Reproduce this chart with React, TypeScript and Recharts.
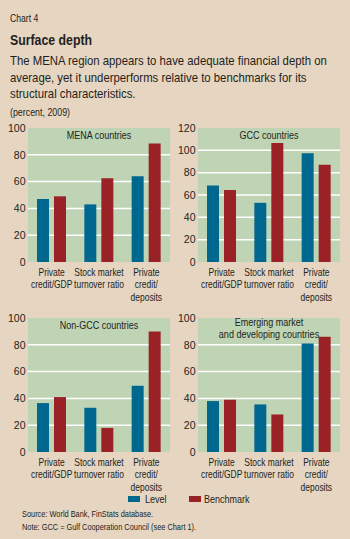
import { BarChart, Bar, XAxis, YAxis, CartesianGrid } from 'recharts';

const categories = ['Private\ncredit/GDP', 'Stock market\nturnover ratio', 'Private\ncredit/\ndeposits'];

const menaLevel = [47, 43, 64];
const menaBenchmark = [49, 62.5, 88.5];
const gccLevel = [68.5, 53, 97.5];
const gccBenchmark = [64.5, 106.5, 87];
const nonGccLevel = [36.5, 33, 49.5];
const nonGccBenchmark = [41, 18, 90];
const emLevel = [38, 35.5, 81];
const emBenchmark = [39, 28, 86];

const ticks100 = [0, 20, 40, 60, 80, 100];
const ticks120 = [0, 20, 40, 60, 80, 100, 120];

const BLUE = '#00678f';
const RED = '#9a2125';
const BEIGE = '#e6d5c0';
const GREEN = '#bfd4b4';
const INK = '#231f20';
// no narrow face installed, so squeeze Liberation Sans horizontally
const FONT = "'Liberation Sans', Arial, sans-serif";
const SQUEEZE = 0.82;

const CatTick = (props: any) => {
  const { x, y, payload } = props;
  const lines = String(payload.value).split('\n');
  return (
    <g transform={`translate(${x},${y}) scale(0.77,1)`}>
      <text x={0} y={0} textAnchor="middle" fill={INK} fontSize={11} fontFamily={FONT}>
        {lines.map((l, i) => (
          <tspan key={i} x={0} dy={i === 0 ? 14 : 12.3}>{l}</tspan>
        ))}
      </text>
    </g>
  );
};

interface PanelProps {
  title: string[];
  level: number[];
  bench: number[];
  max: number;
  ticks: number[];
  left: number;
  top: number;
  yWidth: number;
  rightMargin: number;
}

const W = 175;
const H = 190;

const Panel = ({ title, level, bench, max, ticks, left, top, yWidth, rightMargin }: PanelProps) => {
  const data = categories.map((c, i) => ({ cat: c, Level: level[i], Benchmark: bench[i] }));
  const plotCenter = (yWidth + W - rightMargin) / 2;
  return (
    <div style={{ position: 'absolute', left, top, width: W, height: H }}>
      <BarChart
        width={W}
        height={H}
        data={data}
        margin={{ top: 8, right: rightMargin, left: 0, bottom: 0 }}
        barSize={12}
        barGap={5}
      >
        <CartesianGrid
          fill={GREEN}
          fillOpacity={1}
          vertical={false}
          stroke="#ffffff"
          strokeWidth={1.5}
          horizontalValues={ticks.filter(t => t > 0 && t < max)}
        />
        <XAxis
          xAxisId="edges"
          type="number"
          domain={[0, 3]}
          ticks={[0, 1, 2, 3]}
          tick={false}
          tickLine={{ stroke: '#444', strokeWidth: 1 }}
          tickSize={3}
          axisLine={false}
          height={0}
        />
        <XAxis
          xAxisId="cat"
          dataKey="cat"
          tick={<CatTick />}
          tickLine={false}
          tickSize={0}
          tickMargin={0}
          axisLine={false}
          interval={0}
          height={48}
        />
        <YAxis
          domain={[0, max]}
          ticks={ticks}
          width={yWidth}
          axisLine={false}
          tickLine={false}
          tickSize={0}
          tickMargin={2.5}
          tick={{ fill: INK, fontSize: 10.5, fontFamily: FONT }}
          interval={0}
        />
        <Bar xAxisId="cat" dataKey="Level" fill={BLUE} isAnimationActive={false} />
        <Bar xAxisId="cat" dataKey="Benchmark" fill={RED} isAnimationActive={false} />
      </BarChart>
      {title.map((t, i) => (
        <div
          key={i}
          style={{
            position: 'absolute',
            left: plotCenter - 80,
            width: 160,
            top: (title.length === 1 ? 15 : 11.7 + i * 12.6) - 7,
            height: 14,
            lineHeight: '14px',
            textAlign: 'center',
            fontSize: 11,
            fontFamily: FONT,
            color: INK,
            whiteSpace: 'nowrap',
            transform: `scaleX(${SQUEEZE})`,
            transformOrigin: '50% 50%',
          }}
        >
          {t}
        </div>
      ))}
    </div>
  );
};

const line = (text: string, cy: number, size: number, extra: any = {}, squeeze = SQUEEZE) => (
  <div
    style={{
      position: 'absolute',
      left: 10,
      top: cy - 9,
      height: 18,
      lineHeight: '18px',
      fontSize: size,
      fontFamily: FONT,
      color: INK,
      whiteSpace: 'nowrap',
      transform: `scaleX(${squeeze})`,
      transformOrigin: '0 50%',
      ...extra,
    }}
  >
    {text}
  </div>
);

export default function App() {
  return (
    <div style={{ position: 'absolute', left: 0, top: 0, width: 350, height: 539, background: BEIGE, overflow: 'hidden' }}>
      {line('Chart 4', 18.3, 10.5)}
      {line('Surface depth', 40, 15, { fontWeight: 'bold' })}
      {line('The MENA region appears to have adequate financial depth on', 61, 13.6, {}, 0.835)}
      {line('average, yet it underperforms relative to benchmarks for its', 77.7, 13.6, {}, 0.835)}
      {line('structural characteristics.', 94.3, 13.6, {}, 0.835)}
      {line('(percent, 2009)', 112.3, 10.8)}

      <Panel title={['MENA countries']} level={menaLevel} bench={menaBenchmark} max={100} ticks={ticks100} left={0} top={120} yWidth={28} rightMargin={5} />
      <Panel title={['GCC countries']} level={gccLevel} bench={gccBenchmark} max={120} ticks={ticks120} left={175} top={120} yWidth={23} rightMargin={10} />
      <Panel title={['Non-GCC countries']} level={nonGccLevel} bench={nonGccBenchmark} max={100} ticks={ticks100} left={0} top={310} yWidth={28} rightMargin={5} />
      <Panel title={['Emerging market', 'and developing countries']} level={emLevel} bench={emBenchmark} max={100} ticks={ticks100} left={175} top={310} yWidth={23} rightMargin={10} />

      <div style={{ position: 'absolute', left: 128, top: 496, width: 12, height: 6, background: BLUE }} />
      {line('Level', 498.5, 11, { left: 144.5 })}
      <div style={{ position: 'absolute', left: 188.5, top: 496, width: 12, height: 6, background: RED }} />
      {line('Benchmark', 498.5, 11, { left: 204 })}

      {line('Source: World Bank, FinStats database.', 514, 9, { left: 21.7 })}
      {line('Note: GCC = Gulf Cooperation Council (see Chart 1).', 526.7, 9, { left: 21.7 })}
    </div>
  );
}
